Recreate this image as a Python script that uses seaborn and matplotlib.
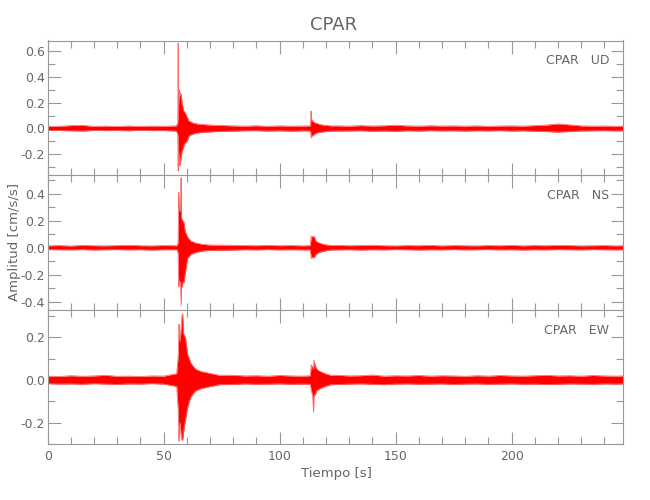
import numpy as np
import pandas as pd
import matplotlib
matplotlib.use("Agg")
import matplotlib.pyplot as plt
from matplotlib.ticker import MultipleLocator
import seaborn as sns

# envelope of the three acceleration records (cm/s/s)
quiet_t = [0, 5, 10, 15, 20, 25, 30, 35, 40, 45, 50,
           80, 85, 90, 95, 100, 105, 110,
           125, 130, 135, 140, 145, 150, 155, 160, 165, 170, 175, 180, 185,
           190, 195, 200, 205, 210, 215, 220, 225, 230, 235, 240, 245, 248]

ud_quiet_up = [0.015, 0.017, 0.022, 0.024, 0.016, 0.018, 0.015, 0.019, 0.016, 0.018, 0.017,
               0.020, 0.018, 0.021, 0.017, 0.020, 0.018, 0.019,
               0.020, 0.018, 0.022, 0.019, 0.021, 0.025, 0.020, 0.018, 0.021, 0.019, 0.020, 0.018, 0.020,
               0.017, 0.019, 0.020, 0.018, 0.022, 0.026, 0.035, 0.028, 0.020, 0.018, 0.019, 0.017, 0.018]
ud_quiet_lo = [-0.015, -0.016, -0.018, -0.020, -0.015, -0.017, -0.016, -0.018, -0.015, -0.017, -0.016,
               -0.020, -0.018, -0.017, -0.020, -0.018, -0.021, -0.018,
               -0.020, -0.019, -0.018, -0.021, -0.019, -0.022, -0.018, -0.020, -0.017, -0.019, -0.018, -0.020, -0.018,
               -0.019, -0.017, -0.020, -0.018, -0.021, -0.024, -0.028, -0.024, -0.019, -0.018, -0.017, -0.019, -0.018]
ud_event_t = [55.5, 56.1, 56.25, 56.35, 56.5, 56.8, 57.2, 57.5, 57.9, 58.6, 59.3, 60.1, 60.8, 62.3, 64.4, 67.3, 71.6,
              113.3, 113.55, 113.65, 113.8, 114.3, 115.0, 116.0, 117.5, 119.5, 122.0]
ud_event_up = [0.020, 0.05, 0.66, 0.12, 0.22, 0.30, 0.25, 0.27, 0.20, 0.14, 0.12, 0.09, 0.06, 0.045, 0.035, 0.030, 0.025,
               0.020, 0.134, 0.077, 0.070, 0.055, 0.045, 0.040, 0.030, 0.025, 0.020]
ud_event_lo = [-0.020, -0.05, -0.33, -0.15, -0.20, -0.29, -0.27, -0.22, -0.18, -0.14, -0.11, -0.10, -0.06, -0.045, -0.035, -0.030, -0.025,
               -0.020, -0.070, -0.070, -0.060, -0.055, -0.045, -0.035, -0.030, -0.025, -0.020]

ns_quiet_up = [0.014, 0.016, 0.013, 0.017, 0.015, 0.014, 0.016, 0.018, 0.015, 0.014, 0.016,
               0.018, 0.016, 0.015, 0.017, 0.015, 0.016, 0.014,
               0.017, 0.015, 0.016, 0.018, 0.015, 0.014, 0.016, 0.015, 0.017, 0.014, 0.016, 0.015, 0.014,
               0.016, 0.015, 0.017, 0.014, 0.016, 0.015, 0.017, 0.016, 0.014, 0.015, 0.016, 0.014, 0.015]
ns_quiet_lo = [-0.014, -0.015, -0.016, -0.014, -0.017, -0.015, -0.014, -0.016, -0.015, -0.017, -0.015,
               -0.017, -0.015, -0.016, -0.014, -0.016, -0.015, -0.016,
               -0.016, -0.015, -0.017, -0.015, -0.016, -0.014, -0.015, -0.017, -0.015, -0.016, -0.014, -0.016, -0.015,
               -0.014, -0.016, -0.015, -0.017, -0.015, -0.016, -0.014, -0.015, -0.016, -0.014, -0.015, -0.016, -0.015]
ns_event_t = [55.8, 56.2, 56.5, 56.7, 57.0, 57.3, 57.5, 57.7, 58.2, 58.7, 59.3, 60.3, 61.7, 63.9, 66.8, 70.0,
              113.2, 113.6, 114.2, 114.9, 115.6, 116.5, 118.0, 120.0, 122.0]
ns_event_up = [0.015, 0.04, 0.41, 0.30, 0.27, 0.30, 0.52, 0.22, 0.20, 0.19, 0.12, 0.08, 0.05, 0.035, 0.025, 0.020,
               0.016, 0.087, 0.080, 0.085, 0.050, 0.040, 0.030, 0.022, 0.017]
ns_event_lo = [-0.015, -0.04, -0.29, -0.25, -0.25, -0.30, -0.43, -0.30, -0.26, -0.26, -0.19, -0.08, -0.05, -0.035, -0.025, -0.020,
               -0.016, -0.080, -0.070, -0.075, -0.050, -0.040, -0.030, -0.022, -0.017]

ew_quiet_up = [0.018, 0.016, 0.020, 0.017, 0.019, 0.022, 0.017, 0.018, 0.016, 0.019, 0.018,
               0.022, 0.019, 0.020, 0.018, 0.021, 0.019, 0.018,
               0.022, 0.019, 0.020, 0.023, 0.018, 0.020, 0.019, 0.021, 0.018, 0.020, 0.019, 0.017, 0.020,
               0.018, 0.021, 0.019, 0.018, 0.020, 0.022, 0.019, 0.020, 0.018, 0.021, 0.019, 0.018, 0.019]
ew_quiet_lo = [-0.017, -0.019, -0.018, -0.020, -0.017, -0.019, -0.021, -0.018, -0.019, -0.017, -0.019,
               -0.021, -0.018, -0.020, -0.019, -0.018, -0.020, -0.019,
               -0.021, -0.019, -0.018, -0.020, -0.022, -0.019, -0.018, -0.020, -0.019, -0.018, -0.021, -0.019, -0.018,
               -0.020, -0.019, -0.018, -0.020, -0.019, -0.021, -0.020, -0.018, -0.019, -0.020, -0.018, -0.019, -0.018]
ew_event_t = [55.6, 56.3, 56.6, 56.8, 57.1, 57.4, 57.8, 58.2, 58.5, 58.9, 59.5, 60.3, 61.0, 61.7, 63.0, 63.9, 66.1, 70.4, 74.0,
              113.2, 113.6, 114.2, 114.6, 114.8, 115.3, 116.0, 117.5, 119.5, 122.0]
ew_event_up = [0.030, 0.12, 0.26, 0.22, 0.18, 0.23, 0.296, 0.31, 0.22, 0.21, 0.19, 0.12, 0.10, 0.08, 0.06, 0.05, 0.04, 0.03, 0.022,
               0.020, 0.070, 0.060, 0.050, 0.093, 0.070, 0.050, 0.040, 0.030, 0.022]
ew_event_lo = [-0.030, -0.15, -0.285, -0.22, -0.20, -0.25, -0.28, -0.28, -0.25, -0.215, -0.18, -0.13, -0.10, -0.08, -0.06, -0.05, -0.04, -0.03, -0.022,
               -0.020, -0.050, -0.070, -0.150, -0.070, -0.070, -0.050, -0.040, -0.030, -0.022]

components = ["UD", "NS", "EW"]
ylims = [(-0.36, 0.68), (-0.465, 0.54), (-0.30, 0.325)]
bottoms = [0.65, 0.3794, 0.1114]
heights = [0.269, 0.2706, 0.268]

records = {
    "UD": (ud_quiet_up, ud_quiet_lo, ud_event_t, ud_event_up, ud_event_lo),
    "NS": (ns_quiet_up, ns_quiet_lo, ns_event_t, ns_event_up, ns_event_lo),
    "EW": (ew_quiet_up, ew_quiet_lo, ew_event_t, ew_event_up, ew_event_lo),
}

sns.set_style("ticks")
plt.rcParams["font.family"] = ["DejaVu Sans"]
grey = "#666666"
axis_grey = "#999999"

fig = plt.figure(figsize=(6.5, 5), dpi=100)

for i, comp in enumerate(components):
    q_up, q_lo, e_t, e_up, e_lo = records[comp]
    df = pd.DataFrame({
        "t": quiet_t + e_t,
        "up": q_up + e_up,
        "lo": q_lo + e_lo,
    }).sort_values("t")

    ax = fig.add_axes([0.0734, bottoms[i], 0.885, heights[i]])
    ax.fill_between(df["t"], df["lo"], df["up"], color="red", lw=0)
    sns.lineplot(data=df, x="t", y="up", ax=ax, color="#ff6666", lw=0.6, sort=False)
    sns.lineplot(data=df, x="t", y="lo", ax=ax, color="#ff6666", lw=0.6, sort=False)

    ax.set_xlim(0, 248)
    ax.set_ylim(*ylims[i])
    ax.xaxis.set_major_locator(MultipleLocator(50))
    ax.xaxis.set_minor_locator(MultipleLocator(10))
    ax.yaxis.set_major_locator(MultipleLocator(0.2))
    ax.yaxis.set_minor_locator(MultipleLocator(0.1))
    ax.yaxis.set_major_formatter(matplotlib.ticker.FormatStrFormatter("%.1f"))
    ax.tick_params(which="both", direction="in", top=True, right=True,
                   color=axis_grey, labelcolor=grey, labelsize=9)
    ax.tick_params(which="major", length=9, width=0.8)
    ax.tick_params(which="minor", length=5, width=0.8)
    ax.tick_params(axis="y", pad=2)
    ax.tick_params(axis="x", pad=4)
    for s in ax.spines.values():
        s.set_color(axis_grey)
        s.set_linewidth(0.8)
    ax.set_xlabel("")
    ax.set_ylabel("")
    if i < 2:
        ax.tick_params(axis="x", labelbottom=False)
    ax.text(0.976, 0.85, "CPAR   " + comp, transform=ax.transAxes,
            ha="right", va="center", fontsize=9, color=grey)

fig.text(0.513, 0.95, "CPAR", ha="center", va="center", fontsize=13, color=grey)
fig.text(0.518, 0.052, "Tiempo [s]", ha="center", va="center", fontsize=9.5, color=grey)
fig.text(0.023, 0.516, "Amplitud [cm/s/s]", rotation=90, ha="center", va="center",
         fontsize=9.5, color=grey)

fig.savefig("out.png", dpi=100)
